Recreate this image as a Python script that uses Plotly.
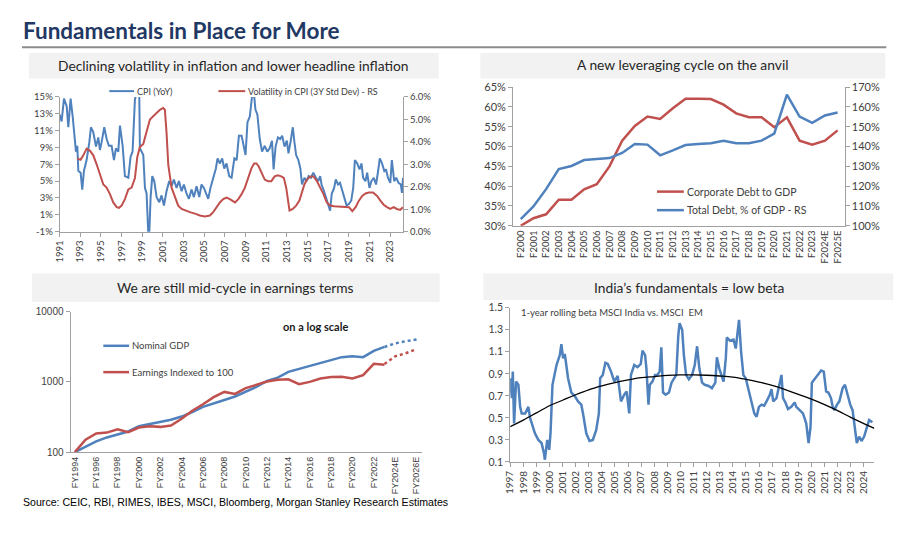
import plotly.graph_objects as go

# ---------------- DATA ----------------
# Panel 1: CPI (YoY, %) and 3Y std-dev volatility (%, RS)
cpi_t = [1991.00, 1991.19, 1991.42, 1991.68, 1991.84, 1992.06, 1992.26, 1992.48, 1992.58, 1992.71,
         1992.81, 1993.03, 1993.19, 1993.35, 1993.61, 1993.87, 1994.03, 1994.26, 1994.52, 1994.74,
         1994.90, 1995.06, 1995.32, 1995.55, 1995.77, 1996.03, 1996.26, 1996.45, 1996.68, 1996.84,
         1997.10, 1997.32, 1997.65, 1997.87, 1998.06, 1998.29, 1998.45, 1998.71, 1998.77, 1998.94,
         1999.10, 1999.26, 1999.42, 1999.58, 1999.68, 1999.81, 1999.97, 2000.16, 2000.39, 2000.65,
         2000.87, 2001.10, 2001.35, 2001.61, 2001.84, 2002.06, 2002.32, 2002.55, 2002.81, 2003.03,
         2003.29, 2003.52, 2003.77, 2004.00, 2004.26, 2004.52, 2004.74, 2004.97, 2005.23, 2005.39,
         2005.61, 2005.87, 2006.13, 2006.29, 2006.52, 2006.74, 2006.94, 2007.16, 2007.42, 2007.65,
         2007.92, 2008.14, 2008.36, 2008.62, 2008.84, 2009.00, 2009.19, 2009.42, 2009.64, 2009.83,
         2009.96, 2010.15, 2010.38, 2010.60, 2010.86, 2011.11, 2011.34, 2011.56, 2011.72, 2011.91,
         2012.14, 2012.36, 2012.55, 2012.78, 2013.00, 2013.16, 2013.35, 2013.58, 2013.74, 2013.90,
         2014.12, 2014.31, 2014.47, 2014.70, 2014.92, 2015.11, 2015.34, 2015.56, 2015.82, 2016.04,
         2016.23, 2016.36, 2016.55, 2016.78, 2017.00, 2017.19, 2017.35, 2017.58, 2017.74, 2017.96,
         2018.15, 2018.38, 2018.60, 2018.79, 2019.02, 2019.24, 2019.43, 2019.59, 2019.82, 2020.04,
         2020.23, 2020.39, 2020.62, 2020.78, 2021.00, 2021.19, 2021.42, 2021.64, 2021.84, 2022.00,
         2022.22, 2022.44, 2022.60, 2022.79, 2023.02, 2023.17, 2023.40, 2023.59, 2023.82, 2024.04,
         2024.15, 2024.25]
cpi_v = [12.9, 12.1, 14.8, 13.9, 11.4, 14.8, 12.7, 10.2, 8.5, 9.2,
         6.2, 6.0, 4.0, 6.2, 7.5, 9.6, 11.4, 10.8, 9.1, 10.2,
         8.7, 9.6, 11.4, 10.0, 9.2, 9.2, 7.5, 8.9, 8.5, 11.6,
         9.2, 5.6, 5.4, 7.9, 8.5, 14.7, 15.5, 15.5, 8.9, 8.5,
         8.1, 4.2, 3.5, -1.2, -1.2, 3.1, 5.6, 5.0, 3.1, 2.5,
         3.3, 2.1, 3.8, 5.0, 4.4, 5.2, 4.2, 5.0, 3.8, 4.6,
         3.5, 2.9, 4.0, 3.1, 4.4, 3.1, 4.6, 4.2, 3.5, 2.9,
         4.2, 5.4, 6.5, 7.7, 7.1, 7.7, 6.5, 7.1, 5.6, 5.4,
         7.7, 7.5, 10.4, 10.4, 9.2, 8.1, 12.0, 12.7, 15.2, 15.2,
         13.5, 12.9, 10.0, 8.5, 9.2, 8.5, 8.9, 9.8, 6.4, 9.1,
         10.2, 10.0, 10.4, 9.1, 9.8, 8.3, 9.6, 11.4, 9.6, 8.1,
         7.5, 6.5, 4.6, 5.4, 5.0, 5.6, 5.4, 6.0, 5.4, 5.0,
         5.6, 4.6, 4.0, 3.1, 2.3, 1.5, 3.5, 4.2, 5.2, 4.6,
         4.8, 3.8, 3.1, 2.1, 2.3, 2.7, 4.2, 7.5, 7.1, 6.4,
         7.1, 5.4, 5.0, 6.0, 4.2, 5.0, 5.4, 4.6, 6.2, 7.7,
         7.1, 6.2, 6.4, 5.4, 4.8, 7.5, 5.0, 5.4, 4.8, 4.6,
         3.6, 5.4]
vol_t = [1992.71, 1993.03, 1993.29, 1993.61, 1993.94, 1994.26, 1994.58, 1994.90, 1995.23, 1995.55,
         1995.87, 1996.19, 1996.52, 1996.74, 1997.00, 1997.32, 1997.65, 1997.97, 1998.29, 1998.52,
         1998.77, 1999.10, 1999.42, 1999.74, 2000.06, 2000.39, 2000.71, 2001.03, 2001.19, 2001.35,
         2001.52, 2001.84, 2002.16, 2002.48, 2002.81, 2003.13, 2003.61, 2004.10, 2004.58, 2005.06,
         2005.55, 2005.87, 2006.19, 2006.52, 2006.84, 2007.16, 2007.48, 2007.98, 2008.30, 2008.62,
         2008.94, 2009.26, 2009.58, 2009.83, 2010.06, 2010.28, 2010.54, 2010.86, 2011.18, 2011.50,
         2011.82, 2012.14, 2012.46, 2012.71, 2012.94, 2013.10, 2013.26, 2013.58, 2013.90, 2014.22,
         2014.44, 2014.70, 2014.95, 2015.27, 2015.59, 2015.91, 2016.23, 2016.55, 2016.87, 2017.19,
         2017.58, 2018.06, 2018.54, 2019.02, 2019.34, 2019.66, 2019.98, 2020.30, 2020.62, 2020.94,
         2021.35, 2021.74, 2022.06, 2022.38, 2022.70, 2023.02, 2023.34, 2023.66, 2023.98, 2024.23]
vol_v = [3.26, 3.20, 3.40, 3.70, 3.60, 3.40, 3.00, 2.60, 2.10, 1.96,
         1.67, 1.30, 1.09, 1.06, 1.16, 1.45, 1.88, 1.96, 2.39, 3.33,
         3.77, 3.91, 4.49, 5.00, 5.14, 5.29, 5.43, 5.51, 5.43, 4.42,
         2.97, 1.96, 1.52, 1.16, 1.01, 0.94, 0.87, 0.80, 0.72, 0.68,
         0.72, 0.87, 1.09, 1.30, 1.45, 1.52, 1.45, 1.30, 1.45, 1.67,
         1.96, 2.39, 2.83, 3.04, 3.04, 2.90, 2.61, 2.32, 2.25, 2.25,
         2.46, 2.51, 2.46, 2.39, 1.96, 1.30, 0.94, 1.01, 1.16, 1.38,
         1.67, 2.10, 2.32, 2.46, 2.46, 2.25, 1.96, 1.67, 1.30, 1.16,
         1.13, 1.12, 1.09, 1.09, 0.91, 1.09, 1.38, 1.59, 1.70, 1.74,
         1.74, 1.59, 1.38, 1.20, 1.09, 1.01, 1.09, 1.01, 0.97, 1.09]
p1_ticks = [1991, 1993, 1995, 1997, 1999, 2001, 2003, 2005, 2007, 2009, 2011,
            2013, 2015, 2017, 2019, 2021, 2023]
p1_left_ticks = [-1, 1, 3, 5, 7, 9, 11, 13, 15]
p1_right_ticks = [0, 1, 2, 3, 4, 5, 6]

# Panel 2: leverage
lev_cats = ["F2000", "F2001", "F2002", "F2003", "F2004", "F2005", "F2006", "F2007", "F2008",
            "F2009", "F2010", "F2011", "F2012", "F2013", "F2014", "F2015", "F2016", "F2017",
            "F2018", "F2019", "F2020", "F2021", "F2022", "F2023", "F2024E", "F2025E"]
corp_debt = [30.0, 31.9, 32.9, 36.6, 36.6, 39.2, 40.5, 45.0, 51.5, 55.2, 57.6, 57.0, 59.7,
             62.1, 62.1, 62.0, 60.6, 58.4, 57.4, 57.4, 54.9, 57.4, 51.5, 50.5, 51.5, 54.1]
total_debt = [103.4, 109.8, 118.5, 128.6, 130.2, 133.2, 133.7, 134.2, 136.8, 141.3, 141.0, 135.6,
              138.1, 140.8, 141.3, 141.7, 143.0, 141.7, 141.7, 143.0, 146.6, 166.2, 155.2, 152.0,
              155.7, 157.2]

# Panel 3: log-scale earnings vs GDP
fy_cats = ["FY1994", "FY1995", "FY1996", "FY1997", "FY1998", "FY1999", "FY2000", "FY2001",
           "FY2002", "FY2003", "FY2004", "FY2005", "FY2006", "FY2007", "FY2008", "FY2009",
           "FY2010", "FY2011", "FY2012", "FY2013", "FY2014", "FY2015", "FY2016", "FY2017",
           "FY2018", "FY2019", "FY2020", "FY2021", "FY2022", "FY2023", "FY2024E", "FY2025E",
           "FY2026E"]
fy_hist = fy_cats[:30]
fy_est = ["FY2023", "FY2024E", "FY2025E", "FY2026E"]
gdp = [100, 120, 142, 162, 180, 197, 234, 250, 268, 290, 321, 370, 442, 500, 552, 620, 720,
       850, 1030, 1150, 1390, 1530, 1718, 1900, 2080, 2250, 2312, 2250, 2770, 3145]
gdp_est = [3145, 3535, 3800, 4020]
earn = [100, 150, 185, 190, 212, 192, 224, 234, 229, 240, 298, 389, 480, 607, 720, 675, 817,
        910, 1010, 1070, 1090, 928, 1000, 1120, 1170, 1180, 1120, 1250, 1810, 1750]
earn_est = [1800, 2310, 2560, 2920]
p3_ticks = ["FY1994", "FY1996", "FY1998", "FY2000", "FY2002", "FY2004", "FY2006", "FY2008",
            "FY2010", "FY2012", "FY2014", "FY2016", "FY2018", "FY2020", "FY2022", "FY2024E",
            "FY2026E"]

# Panel 4: rolling beta
beta_t = [1997.00, 1997.13, 1997.20, 1997.30, 1997.45, 1997.63, 1997.76, 1997.88, 1998.14, 1998.39,
          1998.52, 1998.89, 1999.15, 1999.40, 1999.58, 1999.65, 1999.83, 1999.98, 2000.08, 2000.23,
          2000.54, 2000.79, 2000.91, 2001.04, 2001.17, 2001.42, 2001.67, 2001.92, 2002.18, 2002.43,
          2002.56, 2002.81, 2003.06, 2003.31, 2003.57, 2003.77, 2003.87, 2004.07, 2004.27, 2004.45,
          2004.70, 2004.95, 2005.21, 2005.33, 2005.46, 2005.71, 2005.89, 2006.09, 2006.22, 2006.47,
          2006.72, 2006.97, 2007.10, 2007.30, 2007.40, 2007.56, 2007.66, 2007.86, 2008.06, 2008.24,
          2008.41, 2008.54, 2008.67, 2008.87, 2009.12, 2009.32, 2009.50, 2009.68, 2009.83, 2009.93,
          2010.13, 2010.26, 2010.43, 2010.64, 2010.89, 2011.09, 2011.27, 2011.44, 2011.65, 2011.85,
          2012.15, 2012.40, 2012.66, 2012.78, 2012.96, 2013.16, 2013.29, 2013.46, 2013.54, 2013.79,
          2014.05, 2014.22, 2014.37, 2014.47, 2014.63, 2014.80, 2014.98, 2015.18, 2015.43, 2015.64,
          2015.81, 2015.99, 2016.19, 2016.39, 2016.57, 2016.82, 2016.95, 2017.08, 2017.33, 2017.58,
          2017.71, 2017.83, 2018.01, 2018.21, 2018.46, 2018.72, 2018.84, 2019.10, 2019.35, 2019.60,
          2019.78, 2019.93, 2020.03, 2020.23, 2020.48, 2020.74, 2020.94, 2021.12, 2021.29, 2021.49,
          2021.62, 2021.75, 2021.95, 2022.13, 2022.38, 2022.56, 2022.76, 2022.96, 2023.14, 2023.26,
          2023.46, 2023.64, 2023.82, 2024.02, 2024.22, 2024.40, 2024.65]
beta_v = [0.86, 0.68, 0.92, 0.45, 0.83, 0.80, 0.60, 0.54, 0.54, 0.60,
          0.50, 0.36, 0.30, 0.27, 0.18, 0.12, 0.30, 0.21, 0.36, 0.80,
          0.98, 1.07, 1.17, 1.04, 1.08, 0.86, 0.73, 0.70, 0.65, 0.62,
          0.54, 0.36, 0.29, 0.30, 0.39, 0.54, 0.86, 0.89, 1.00, 0.99,
          0.92, 0.83, 0.88, 0.76, 0.65, 0.71, 0.74, 0.54, 0.89, 0.98,
          0.96, 0.99, 1.11, 1.07, 0.95, 0.62, 0.80, 0.83, 0.89, 0.89,
          0.92, 1.14, 0.73, 0.71, 0.73, 0.82, 0.85, 0.89, 1.24, 1.36,
          1.30, 1.07, 0.89, 0.85, 0.89, 0.98, 1.15, 0.95, 0.82, 0.80,
          0.79, 0.77, 0.82, 1.05, 0.95, 0.88, 0.83, 1.04, 1.23, 1.20,
          1.21, 1.13, 1.33, 1.39, 1.10, 0.89, 0.86, 0.77, 0.65, 0.54,
          0.51, 0.60, 0.62, 0.61, 0.65, 0.71, 0.76, 0.65, 0.68, 0.83,
          0.89, 0.68, 0.64, 0.58, 0.60, 0.64, 0.60, 0.57, 0.54, 0.45,
          0.27, 0.42, 0.82, 0.85, 0.89, 0.93, 0.92, 0.74, 0.73, 0.68,
          0.60, 0.57, 0.62, 0.65, 0.77, 0.80, 0.71, 0.62, 0.57, 0.45,
          0.27, 0.33, 0.29, 0.33, 0.42, 0.48, 0.46]
trend_t = [1997, 1998, 1999, 2000, 2001, 2002, 2003, 2004, 2005, 2006, 2007, 2008, 2009, 2010,
           2011, 2012, 2013, 2014, 2015, 2016, 2017, 2018, 2019, 2020, 2021, 2022, 2023, 2024, 2024.8]
trend_v = [0.42, 0.48, 0.545, 0.61, 0.66, 0.71, 0.755, 0.79, 0.82, 0.845, 0.865, 0.875, 0.885, 0.89,
           0.89, 0.887, 0.88, 0.87, 0.85, 0.825, 0.795, 0.757, 0.713, 0.67, 0.62, 0.565, 0.505,
           0.448, 0.405]
beta_ticks = list(range(1997, 2025))
beta_yticks = [0.1, 0.3, 0.5, 0.7, 0.9, 1.1, 1.3, 1.5]

# ---------------- STYLE ----------------
W, H = 911, 537
OFF = 8  # the page body margin shifts the figure by 8px
BLUE = "#4F81BD"
RED = "#C0504D"
AX = "#A0A0A0"
TXT = "#404040"
FONT = "Lato"
ARIAL = "Liberation Sans"


def fx(x):
    return (x - OFF) / W


def fy(y):
    return 1 - (y - OFF) / H


fig = go.Figure()

# Panel 1
fig.add_trace(go.Scatter(x=cpi_t, y=cpi_v, mode="lines", line=dict(color=BLUE, width=2),
                         xaxis="x", yaxis="y", showlegend=False))
fig.add_trace(go.Scatter(x=vol_t, y=vol_v, mode="lines", line=dict(color=RED, width=2),
                         xaxis="x", yaxis="y2", showlegend=False))
# Panel 2
fig.add_trace(go.Scatter(x=lev_cats, y=corp_debt, mode="lines", line=dict(color=RED, width=2.5),
                         xaxis="x2", yaxis="y3", showlegend=False))
fig.add_trace(go.Scatter(x=lev_cats, y=total_debt, mode="lines", line=dict(color=BLUE, width=2.5),
                         xaxis="x2", yaxis="y4", showlegend=False))
# Panel 3
fig.add_trace(go.Scatter(x=fy_hist, y=gdp, mode="lines", line=dict(color=BLUE, width=2.5),
                         xaxis="x3", yaxis="y5", showlegend=False))
fig.add_trace(go.Scatter(x=fy_hist, y=earn, mode="lines", line=dict(color=RED, width=2.5),
                         xaxis="x3", yaxis="y5", showlegend=False))
fig.add_trace(go.Scatter(x=fy_est, y=gdp_est, mode="lines",
                         line=dict(color=BLUE, width=2.5, dash="dot"),
                         xaxis="x3", yaxis="y5", showlegend=False))
fig.add_trace(go.Scatter(x=fy_est, y=earn_est, mode="lines",
                         line=dict(color=RED, width=2.5, dash="dot"),
                         xaxis="x3", yaxis="y5", showlegend=False))
# Panel 4
fig.add_trace(go.Scatter(x=beta_t, y=beta_v, mode="lines", line=dict(color=BLUE, width=2.5),
                         xaxis="x4", yaxis="y6", showlegend=False))
fig.add_trace(go.Scatter(x=trend_t, y=trend_v, mode="lines",
                         line=dict(color="black", width=1.3, shape="spline"),
                         xaxis="x4", yaxis="y6", showlegend=False))


def axis_common(size=10, family=FONT, ticks="outside"):
    return dict(showgrid=False, zeroline=False, showline=True, linecolor=AX, linewidth=1,
                ticks=ticks, ticklen=4, tickcolor=AX,
                tickfont=dict(family=family, size=size, color=TXT))


layout = dict(
    width=W, height=H, margin=dict(l=0, r=0, t=0, b=0),
    paper_bgcolor="white", plot_bgcolor="white", showlegend=False,
    font=dict(family=FONT, color=TXT),
    # panel 1
    xaxis=dict(**axis_common(9.5), domain=[fx(53), fx(399)], anchor="y",
               range=[1991, 2024.25], tickmode="array", tickvals=p1_ticks,
               ticktext=[str(v) for v in p1_ticks], tickangle=-90),
    yaxis=dict(**axis_common(9.5), domain=[fy(230), fy(92)], anchor="x",
               range=[-1, 15], tickmode="array", tickvals=p1_left_ticks,
               ticktext=["%d%%" % v for v in p1_left_ticks]),
    yaxis2=dict(**axis_common(9.5), overlaying="y", side="right", anchor="x",
                range=[0, 6], tickmode="array", tickvals=p1_right_ticks,
                ticktext=["%.1f%%" % v for v in p1_right_ticks]),
    # panel 2
    xaxis2=dict(**axis_common(9.5, ticks=""), domain=[fx(510), fx(844)], anchor="y3",
                type="category", range=[-0.6, 25.55], tickangle=-90,
                tickmode="array", tickvals=lev_cats, ticktext=lev_cats),
    yaxis3=dict(**axis_common(11), domain=[fy(224), fy(82)], anchor="x2",
                range=[30, 65], dtick=5, tick0=30, ticksuffix="%"),
    yaxis4=dict(**axis_common(11), overlaying="y3", side="right", anchor="x2",
                range=[100, 170], dtick=10, tick0=100, ticksuffix="%"),
    # panel 3
    xaxis3=dict(**axis_common(9, family=ARIAL, ticks=""), domain=[fx(64), fx(418)],
                anchor="y5", type="category", categoryorder="array", categoryarray=fy_cats,
                range=[-0.4, 32.5], tickangle=-90,
                tickmode="array", tickvals=p3_ticks, ticktext=p3_ticks),
    yaxis5=dict(**axis_common(10, family=ARIAL), domain=[fy(456), fy(312)], anchor="x3",
                type="log", range=[2, 4], tickmode="array", tickvals=[100, 1000, 10000],
                ticktext=["100", "1000", "10000"]),
    # panel 4
    xaxis4=dict(**axis_common(10), domain=[fx(507), fx(874)], anchor="y6",
                range=[1997, 2024.8], tickmode="array", tickvals=beta_ticks,
                ticktext=[str(v) for v in beta_ticks], tickangle=-90),
    yaxis6=dict(**axis_common(10.5), domain=[fy(466), fy(308)], anchor="x4",
                range=[0.1, 1.5], tickmode="array", tickvals=beta_yticks,
                ticktext=["%.1f" % v for v in beta_yticks]),
)
fig.update_layout(**layout)

shapes = []
annotations = []


def pline(x0, x1, y, color, width=1, dash="solid"):
    shapes.append(dict(type="line", xref="paper", yref="paper", x0=fx(x0), x1=fx(x1),
                       y0=fy(y), y1=fy(y), line=dict(color=color, width=width, dash=dash)))


def text(x, y, s, size, xanchor="left", color=TXT, family=FONT, bold=False):
    if bold:
        s = "<b>" + s + "</b>"
    annotations.append(dict(x=fx(x), y=fy(y), xref="paper", yref="paper", text=s,
                            showarrow=False, xanchor=xanchor, yanchor="middle",
                            font=dict(family=family, size=size, color=color)))


# Main title and rule
text(14, 24, "Fundamentals in Place for More", 22.5, color="#1F3864", bold=True)
pline(15, 886, 41, "#8C8C8C", 2)

# Panel title boxes
for (x0, x1, y0, y1, cx, cy, s) in [
    (22, 435, 47, 73, 228, 60, "Declining volatility in inflation and lower headline inflation"),
    (477, 885, 47, 73, 681, 59, "A new leveraging cycle on the anvil"),
    (25, 436, 273, 302, 230, 287, "We are still mid-cycle in earnings terms"),
    (480, 893, 273, 300, 687, 287, "India\u2019s fundamentals = low beta"),
]:
    shapes.append(dict(type="rect", xref="paper", yref="paper", x0=fx(x0), x1=fx(x1),
                       y0=fy(y1), y1=fy(y0), fillcolor="#F2F2F2", line=dict(width=0),
                       layer="below"))
    text(cx, cy, s, 13.8, xanchor="center", color="#262626")

# Panel 1 legend
pline(103, 128, 86, BLUE, 2)
text(129, 86, "CPI (YoY)", 9, color=TXT)
pline(213, 240, 86, RED, 2)
text(241, 86, "Volatility in CPI (3Y Std Dev) - RS", 9, color=TXT)

# Panel 2 legend
pline(655, 682, 189, RED, 2.5)
text(683, 189, "Corporate Debt to GDP", 10.5)
pline(655, 682, 208, BLUE, 2.5)
text(683, 208, "Total Debt, % of GDP - RS", 10.5)

# Panel 3 legend + note
pline(97, 123, 347, BLUE, 2.5)
text(124, 347, "Nominal GDP", 9.5)
pline(97, 123, 374, RED, 2.5)
text(124, 374, "Earnings Indexed to 100", 9.5)
text(276, 327, "on a log scale", 11, color="#1A1A1A", bold=True)

# Panel 4 note
text(516, 313, "1-year rolling beta MSCI India vs. MSCI  EM", 9.5)

# Source
text(14, 507, "Source: CEIC, RBI, RIMES, IBES, MSCI, Bloomberg, Morgan Stanley Research Estimates",
     10.6, color="#000000", family=ARIAL)

fig.update_layout(shapes=shapes, annotations=annotations)
fig.write_html("out.html")
